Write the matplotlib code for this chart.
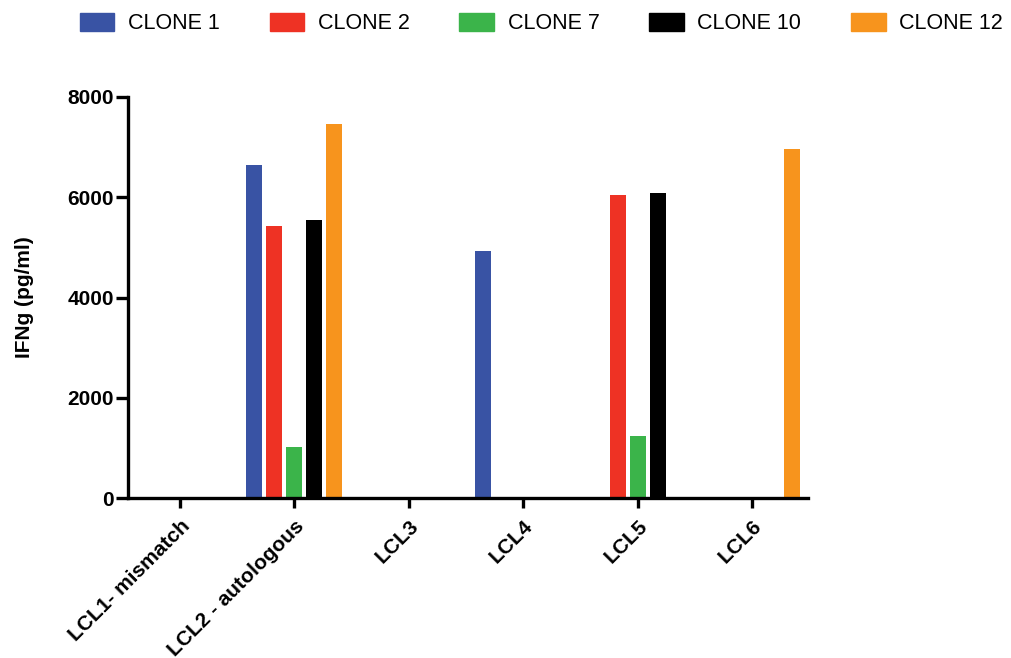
import numpy as np
import matplotlib.pyplot as plt
from matplotlib.patches import Patch

plt.rcParams['font.family'] = ['Liberation Sans', 'DejaVu Sans']

# data
categories = ['LCL1- mismatch', 'LCL2 - autologous', 'LCL3', 'LCL4', 'LCL5', 'LCL6']
clone_names = ['CLONE 1', 'CLONE 2', 'CLONE 7', 'CLONE 10', 'CLONE 12']
clone1 = [0, 6650, 0, 4920, 0, 0]
clone2 = [0, 5430, 0, 0, 6040, 0]
clone7 = [0, 1010, 0, 0, 1230, 0]
clone10 = [0, 5550, 0, 0, 6080, 0]
clone12 = [0, 7460, 0, 0, 0, 6970]
y_ticks = [0, 2000, 4000, 6000, 8000]

series = [clone1, clone2, clone7, clone10, clone12]
colors = ['#3953A4', '#EE3224', '#3BB44A', '#000000', '#F7941D']

fig = plt.figure(figsize=(10.11, 6.58), dpi=100)
ax = fig.add_axes([0.1266, 0.243, 0.6724, 0.6096])

x = np.arange(len(categories))
step = 0.175
width = 0.14
for i, (vals, col) in enumerate(zip(series, colors)):
    ax.bar(x + (i - 2) * step, vals, width=width, color=col, label=clone_names[i])

ax.set_xlim(-0.454, 5.485)
ax.set_ylim(0, 8000)
ax.set_yticks(y_ticks)
ax.set_xticks(x)
ax.set_xticklabels(categories, rotation=45, ha='right', rotation_mode='anchor',
                   fontsize=15, fontweight='bold')
for lbl in ax.get_yticklabels():
    lbl.set_fontsize(15)
    lbl.set_fontweight('bold')

ax.spines['top'].set_visible(False)
ax.spines['right'].set_visible(False)
ax.spines['left'].set_linewidth(2.4)
ax.spines['bottom'].set_linewidth(2.4)
ax.tick_params(axis='y', width=2.4, length=9, pad=1)
ax.tick_params(axis='x', width=2.4, length=7, pad=6)
ax.set_ylabel('IFNg (pg/ml)', fontsize=15, fontweight='bold', labelpad=24)

handles = [Patch(color=c) for c in colors]
fig.legend(handles, clone_names, loc='upper center', bbox_to_anchor=(0.5356, 1.01),
           ncol=5, frameon=False, fontsize=15.5, handlelength=1.6, handleheight=0.95,
           handletextpad=0.64, columnspacing=2.31)

fig.savefig('out.png', dpi=100)
